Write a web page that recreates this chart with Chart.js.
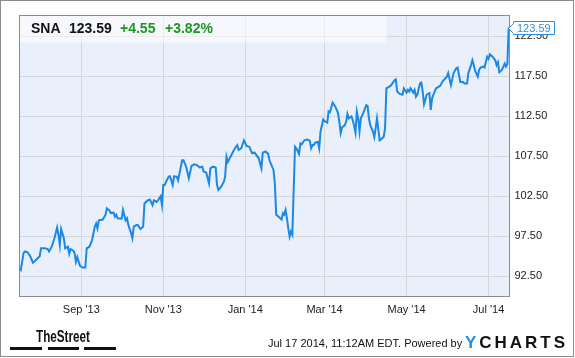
<!DOCTYPE html>
<html>
<head>
<meta charset="utf-8">
<script src="https://cdn.jsdelivr.net/npm/chart.js@4.4.1/dist/chart.umd.min.js"></script>
<style>
  html, body { margin: 0; padding: 0; background: #fff; }
  #chart { display: block; }
</style>
</head>
<body>
<canvas id="chart" width="575" height="358"></canvas>
<script>
/* SNA one-year price chart, YCharts style */

// days after Jul 17 2013
const days = [
    0, 1, 3, 4, 6, 8, 10, 12, 15, 16, 19, 21, 22, 24, 26, 28, 29, 30, 31, 33,
    34, 36, 37, 38, 40, 41, 42, 43, 45, 47, 49, 50, 52, 54, 56, 57, 58, 59, 62, 64,
    65, 67, 68, 70, 71, 72, 73, 76, 77, 79, 80, 81, 83, 84, 85, 87, 88, 90, 92, 93,
    95, 97, 99, 100, 102, 103, 105, 106, 107, 108, 109, 111, 112, 114, 115, 117, 118, 119, 121, 122,
    124, 126, 128, 130, 132, 134, 136, 137, 139, 140, 141, 142, 144, 146, 147, 148, 150, 152, 153, 154,
    155, 157, 159, 161, 162, 163, 165, 167, 169, 171, 173, 175, 176, 178, 179, 180, 181, 183, 185, 186,
    189, 190, 191, 193, 195, 196, 197, 198, 199, 200, 201, 202, 203, 205, 206, 208, 209, 210, 212, 214,
    216, 217, 218, 219, 220, 222, 223, 224, 226, 227, 229, 230, 231, 233, 235, 237, 238, 239, 240, 242,
    243, 244, 245, 247, 248, 249, 250, 251, 252, 253, 254, 256, 258, 259, 260, 261, 263, 264, 265, 266,
    268, 269, 271, 272, 273, 276, 277, 279, 280, 281, 283, 285, 286, 288, 289, 290, 291, 293, 294, 295,
    296, 298, 299, 300, 301, 303, 305, 306, 307, 309, 310, 313, 315, 318, 319, 321, 323, 325, 326, 328,
    330, 331, 333, 334, 336, 337, 338, 339, 341, 342, 343, 345, 346, 348, 349, 350, 352, 354, 355, 356,
    357, 359, 361, 362, 363, 364,
];
const prices = [
    93.5, 93.3, 95.4, 95.6, 95.5, 95.0, 94.2, 94.5, 95.0, 96.0, 96.0, 95.9, 95.6, 96.2, 97.25, 98.6, 97.7, 96.4, 98.4, 97.25,
    96.0, 96.2, 95.3, 95.9, 95.7, 95.4, 94.3, 94.9, 93.8, 93.6, 93.6, 96.0, 96.2, 97.0, 98.7, 99.1, 98.5, 99.5, 99.6, 100.2,
    101.0, 100.7, 100.4, 100.45, 99.95, 100.2, 99.75, 99.7, 100.8, 99.5, 99.75, 98.9, 97.9, 97.25, 98.7, 98.9, 98.9, 98.4, 98.7, 101.6,
    101.95, 102.1, 101.4, 102.0, 101.8, 102.0, 102.5, 101.4, 103.9, 103.9, 104.3, 104.95, 105.0, 103.9, 105.0, 104.95, 104.5, 105.3, 107.0, 107.0,
    106.2, 104.75, 106.3, 106.5, 106.4, 106.1, 106.2, 105.6, 105.45, 104.75, 104.1, 106.0, 106.2, 106.1, 103.9, 103.3, 103.7, 104.3, 104.95, 107.45,
    106.8, 107.45, 108.1, 108.7, 108.9, 108.3, 108.5, 109.5, 108.8, 108.7, 107.9, 107.95, 107.7, 107.25, 106.6, 106.0, 107.95, 108.1, 107.8, 107.0,
    105.8, 104.1, 100.2, 99.9, 99.6, 100.4, 100.2, 100.8, 99.75, 98.5, 97.45, 98.1, 97.7, 108.7, 108.5, 107.8, 109.1, 109.0, 109.5, 109.6,
    109.45, 108.5, 108.9, 108.9, 109.2, 109.3, 108.5, 110.6, 112.1, 111.9, 111.7, 113.1, 113.0, 114.2, 113.7, 112.9, 111.8, 110.4, 111.1, 111.4,
    111.8, 112.8, 112.25, 112.5, 112.0, 111.3, 110.45, 113.1, 112.25, 110.6, 112.25, 113.0, 113.9, 113.8, 112.25, 111.4, 110.6, 109.9, 111.0, 112.25,
    109.5, 109.6, 109.95, 111.0, 116.0, 116.3, 116.5, 117.0, 117.1, 115.6, 115.3, 115.2, 116.0, 115.45, 115.8, 115.6, 116.0, 115.45, 115.8, 114.95,
    115.2, 116.6, 116.7, 115.6, 114.0, 115.2, 115.4, 113.3, 114.75, 115.65, 116.0, 116.3, 116.9, 117.45, 117.9, 116.4, 117.9, 118.5, 118.6, 116.8,
    116.8, 116.6, 116.6, 117.9, 118.9, 119.5, 118.9, 118.2, 117.45, 118.3, 118.6, 118.7, 118.6, 119.95, 119.7, 120.25, 119.95, 119.5, 118.9, 119.25,
    118.0, 118.3, 119.1, 118.7, 119.04, 123.59,
];

const xTickDays = [46, 107, 168, 227, 288, 349];
const xTickLabels = ["Sep '13", "Nov '13", "Jan '14", "Mar '14", "May '14", "Jul '14"];
const yTicks = [92.5, 97.5, 102.5, 107.5, 112.5, 117.5, 122.5];

const ticker = 'SNA';
const lastPrice = '123.59';
const change = '+4.55';
const changePct = '+3.82%';
const stamp = 'Jul 17 2014, 11:12AM EDT. Powered by';

const FONT = '"Liberation Sans", Arial, sans-serif';
const COLORS = {
    line: '#1a88e4',
    plotBg: '#eaf0fb',
    grid: '#d5d6d8',
    frame: '#8c8c8c',
    text: '#222222',
    green: '#1a9a1a',
    label: '#2d8fe0',
};

Chart.defaults.font.family = FONT;
Chart.defaults.font.size = 11;
Chart.defaults.color = COLORS.text;

const frame = {
    id: 'frame',
    beforeDraw(chart) {
        const { ctx, chartArea: a } = chart;
        ctx.save();
        ctx.fillStyle = '#fff';
        ctx.fillRect(0, 0, chart.width, chart.height);
        ctx.fillStyle = COLORS.plotBg;
        ctx.fillRect(a.left, a.top, a.right - a.left, a.bottom - a.top);
        ctx.restore();
    },
    beforeDatasetsDraw(chart) {
        const { ctx, chartArea: a } = chart;
        ctx.save();
        // header box
        ctx.fillStyle = 'rgba(255, 255, 255, 0.55)';
        ctx.fillRect(a.left, a.top, 367, 27);
        ctx.textBaseline = 'middle';
        ctx.font = 'bold 14px ' + FONT;
        ctx.fillStyle = '#111';
        ctx.fillText(ticker, 31, 29);
        ctx.fillText(lastPrice, 69, 29);
        ctx.fillStyle = COLORS.green;
        ctx.fillText(change, 120, 29);
        ctx.fillText(changePct, 165, 29);
        ctx.restore();
    },
    afterDraw(chart) {
        const { ctx, chartArea: a } = chart;
        const y = chart.scales.y;
        ctx.save();
        ctx.strokeStyle = COLORS.frame;
        ctx.lineWidth = 1;
        ctx.strokeRect(a.left, a.top, a.right - a.left, a.bottom - a.top);
        ctx.strokeRect(0.5, 0.5, chart.width - 2, chart.height - 2);

        // last price flag
        const py = Math.round(y.getPixelForValue(parseFloat(lastPrice))) + 0.5;
        ctx.beginPath();
        ctx.moveTo(a.right - 1, py);
        ctx.lineTo(a.right + 4, py - 5);
        ctx.lineTo(a.right + 4, py - 7);
        ctx.lineTo(554.5, py - 7);
        ctx.lineTo(554.5, py + 6);
        ctx.lineTo(a.right + 4, py + 6);
        ctx.lineTo(a.right + 4, py + 5);
        ctx.closePath();
        ctx.fillStyle = '#fff';
        ctx.fill();
        ctx.strokeStyle = COLORS.label;
        ctx.stroke();
        ctx.fillStyle = COLORS.label;
        ctx.font = '11px ' + FONT;
        ctx.textBaseline = 'middle';
        ctx.fillText(lastPrice, 517, py);

        // footer
        ctx.fillStyle = '#111';
        ctx.font = 'bold 16px ' + FONT;
        const tw = ctx.measureText('TheStreet').width;
        ctx.save();
        ctx.translate(36, 341.5);
        ctx.scale(54 / tw, 1);
        ctx.textBaseline = 'alphabetic';
        ctx.fillText('TheStreet', 0, 0);
        ctx.restore();
        ctx.fillRect(10, 347, 32, 3);
        ctx.fillRect(48, 347, 31, 3);
        ctx.fillRect(84, 347, 32, 3);

        ctx.font = '11px ' + FONT;
        ctx.fillStyle = '#111';
        ctx.textBaseline = 'middle';
        ctx.fillText(stamp, 268, 344);

        ctx.font = 'bold 17px ' + FONT;
        const letters = 'YCHARTS'.split('');
        const widths = letters.map((c) => ctx.measureText(c).width);
        const gap = (100 - widths.reduce((s, w) => s + w, 0)) / (letters.length - 1);
        let lx = 465;
        letters.forEach((c, i) => {
            ctx.fillStyle = i === 0 ? '#1e90e6' : '#111';
            ctx.fillText(c, lx, 343.5);
            lx += widths[i] + gap;
        });
        ctx.restore();
    },
};

new Chart(document.getElementById('chart'), {
    type: 'line',
    data: {
        datasets: [{
            data: days.map((d, i) => ({ x: d, y: prices[i] })),
            borderColor: COLORS.line,
            borderWidth: 2,
            pointRadius: 0,
            tension: 0,
            fill: false,
        }],
    },
    options: {
        responsive: false,
        animation: false,
        devicePixelRatio: 1,
        layout: { padding: { left: 19.5, top: 15.5, right: 0, bottom: 0 } },
        plugins: { legend: { display: false }, tooltip: { enabled: false } },
        scales: {
            x: {
                type: 'linear',
                min: 0,
                max: 364.6,
                afterBuildTicks: (s) => { s.ticks = xTickDays.map((v) => ({ value: v })); },
                afterFit: (s) => { s.height = 61.5; },
                grid: { color: COLORS.grid, drawTicks: false },
                border: { display: false },
                ticks: {
                    padding: 7,
                    maxRotation: 0,
                    autoSkip: false,
                    callback: (v, i) => xTickLabels[i],
                },
            },
            y: {
                position: 'right',
                min: 89.975,
                max: 125.1,
                afterBuildTicks: (s) => { s.ticks = yTicks.map((v) => ({ value: v })); },
                afterFit: (s) => { s.width = 65.5; },
                grid: { color: COLORS.grid, drawTicks: false },
                border: { display: false },
                ticks: {
                    padding: 5,
                    callback: (v) => v.toFixed(2),
                },
            },
        },
    },
    plugins: [frame],
});
</script>
</body>
</html>
